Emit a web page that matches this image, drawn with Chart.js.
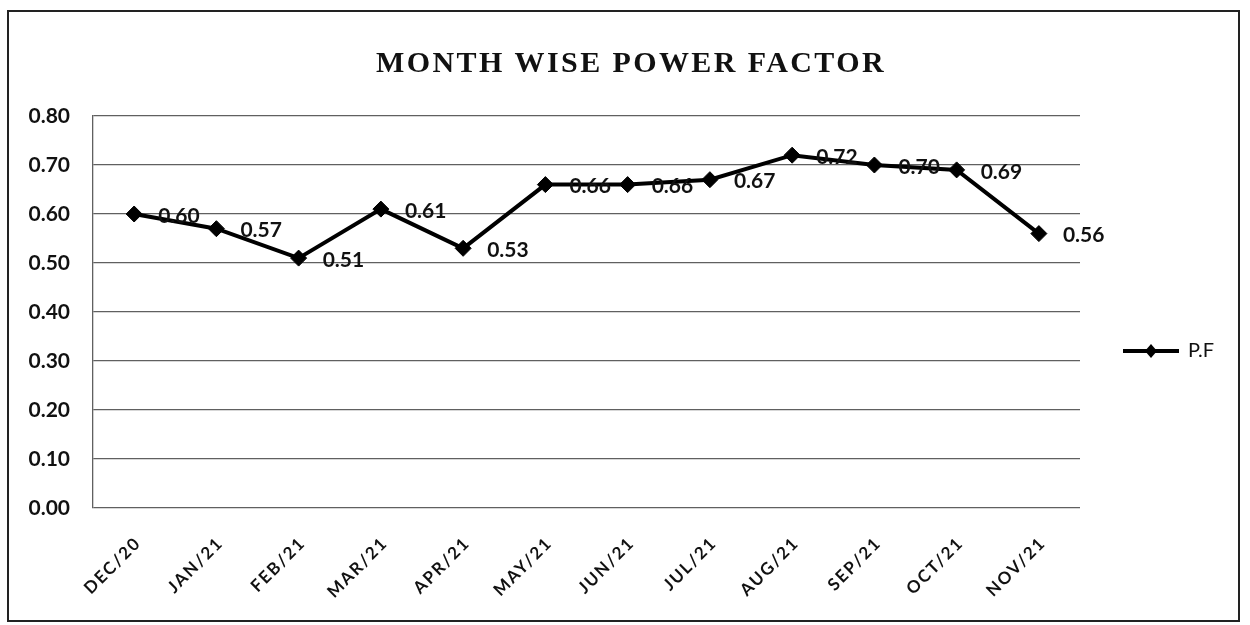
<!DOCTYPE html>
<html>
<head>
<meta charset="utf-8">
<script src="https://cdn.jsdelivr.net/npm/chart.js@4/dist/chart.umd.min.js"></script>
<style>
  html, body { margin: 0; padding: 0; background: #fff; }
  #wrap { position: absolute; left: 0; top: 0; width: 1250px; height: 625px; }
</style>
</head>
<body>
<div id="wrap"><canvas id="c" width="1250" height="625"></canvas></div>
<script>
const chartTitle = 'MONTH WISE POWER FACTOR';
const seriesName = 'P.F';
const months = ['DEC/20','JAN/21','FEB/21','MAR/21','APR/21','MAY/21','JUN/21','JUL/21','AUG/21','SEP/21','OCT/21','NOV/21'];
const pfValues = [0.60, 0.57, 0.51, 0.61, 0.53, 0.66, 0.66, 0.67, 0.72, 0.70, 0.69, 0.56];
const yTicks = [0.00, 0.10, 0.20, 0.30, 0.40, 0.50, 0.60, 0.70, 0.80];

const NUM_FONT = 'bold 21px Lato';

const framePlugin = {
  id: 'frame',
  beforeDraw(chart) {
    const ctx = chart.ctx;
    ctx.save();
    ctx.fillStyle = '#fff';
    ctx.fillRect(0, 0, chart.width, chart.height);
    ctx.strokeStyle = '#222';
    ctx.lineWidth = 2;
    ctx.strokeRect(8, 11, 1231, 610);
    ctx.restore();
    // letter-spaced x tick labels
    const s = chart.scales.x;
    if (s && !s.__wrapped) {
      const orig = s.drawLabels.bind(s);
      s.drawLabels = function (ca) {
        const c = this.ctx;
        c.save();
        c.letterSpacing = '1.8px';
        orig(ca);
        c.restore();
      };
      s.__wrapped = true;
    }
  }
};

const decoPlugin = {
  id: 'deco',
  afterDraw(chart) {
    const ctx = chart.ctx;
    // title
    ctx.save();
    ctx.font = 'bold 30px "Liberation Serif"';
    ctx.letterSpacing = '2.4px';
    ctx.fillStyle = '#111';
    ctx.textAlign = 'center';
    ctx.textBaseline = 'alphabetic';
    ctx.fillText(chartTitle, 631, 72);
    ctx.restore();

    // data labels
    const meta = chart.getDatasetMeta(0);
    ctx.save();
    ctx.font = NUM_FONT;
    ctx.fillStyle = '#111';
    ctx.textAlign = 'left';
    ctx.textBaseline = 'middle';
    meta.data.forEach((pt, i) => {
      ctx.fillText(pfValues[i].toFixed(2), pt.x + 24, pt.y + 2);
    });
    ctx.restore();

    // legend
    const ly = 351;
    ctx.save();
    ctx.strokeStyle = '#000';
    ctx.lineWidth = 4;
    ctx.beginPath();
    ctx.moveTo(1123, ly);
    ctx.lineTo(1179, ly);
    ctx.stroke();
    ctx.fillStyle = '#000';
    ctx.beginPath();
    ctx.moveTo(1151, ly - 7);
    ctx.lineTo(1157, ly);
    ctx.lineTo(1151, ly + 7);
    ctx.lineTo(1145, ly);
    ctx.closePath();
    ctx.fill();
    ctx.font = '20px Lato';
    ctx.fillStyle = '#111';
    ctx.textAlign = 'left';
    ctx.textBaseline = 'middle';
    ctx.fillText(chart.data.datasets[0].label, 1188, ly);
    ctx.restore();
  }
};

new Chart(document.getElementById('c'), {
  type: 'line',
  data: {
    labels: months,
    datasets: [{
      label: seriesName,
      data: pfValues,
      borderColor: '#000',
      backgroundColor: '#000',
      borderWidth: 4,
      pointStyle: 'rectRot',
      pointRadius: 8,
      pointBorderWidth: 1,
      pointBackgroundColor: '#000',
      pointBorderColor: '#000',
      tension: 0,
      fill: false
    }]
  },
  options: {
    responsive: false,
    animation: false,
    devicePixelRatio: 1,
    layout: { padding: { left: 0, right: 170, top: 116, bottom: 0 } },
    plugins: {
      legend: { display: false },
      title: { display: false },
      tooltip: { enabled: false }
    },
    scales: {
      x: {
        offset: true,
        grid: { display: false, drawTicks: false },
        border: { display: false },
        ticks: {
          autoSkip: false,
          minRotation: 45,
          maxRotation: 45,
          padding: 25,
          labelOffset: 4,
          color: '#111',
          font: { family: 'Lato', weight: 'bold', size: 17 }
        },
        afterFit(scale) { scale.height = 117; }
      },
      y: {
        min: 0,
        max: 0.8,
        afterBuildTicks(scale) { scale.ticks = yTicks.map(v => ({ value: v })); },
        grid: { color: '#606060', lineWidth: 1.3, drawTicks: false },
        border: { display: true, color: '#606060', width: 1.3 },
        ticks: {
          padding: 23,
          color: '#111',
          font: { family: 'Lato', weight: 'bold', size: 21 },
          callback: v => Number(v).toFixed(2)
        },
        afterFit(scale) { scale.width = 93; }
      }
    }
  },
  plugins: [framePlugin, decoPlugin]
});
</script>
</body>
</html>
